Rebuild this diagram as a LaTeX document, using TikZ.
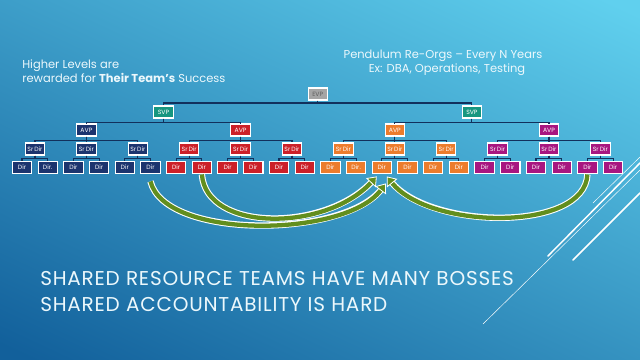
\documentclass[tikz,border=0pt]{standalone}
\usepackage{fontspec}
\setmainfont{Poppins}
\usetikzlibrary{arrows.meta}
\definecolor{bgtop}{RGB}{96,208,238}
\definecolor{bgbot}{RGB}{18,96,155}
\definecolor{cblue}{RGB}{28,52,110}
\definecolor{cred}{RGB}{204,32,40}
\definecolor{corange}{RGB}{236,124,44}
\definecolor{cpurple}{RGB}{168,22,128}
\definecolor{cteal}{RGB}{22,150,128}
\definecolor{cgray}{RGB}{165,165,165}
\definecolor{cline}{RGB}{18,48,92}
\definecolor{cgreen}{RGB}{98,142,30}
\definecolor{ctext}{RGB}{236,248,252}
\begin{document}
\begin{tikzpicture}[x=0.75pt,y=-0.75pt,
  box/.style={draw=white, line width=0.8pt, minimum width=14.5pt, minimum height=9pt,
    inner sep=0pt, text=white, font=\fontsize{4.6}{5}\selectfont},
  dirbox/.style={box, minimum height=9.6pt},
  conn/.style={draw=cline, line width=0.8pt},
  ushaft/.style={draw=white, line width=4.8pt, shorten >=5pt},
  gshaft/.style={draw=cgreen, line width=3.2pt,
    -{Triangle[width=10pt,length=6.5pt,fill=cgreen,color=white,line width=0.6pt]}},
  deco/.style={draw=white, line cap=round},
  slidetext/.style={text=ctext, inner sep=0pt},
  titletext/.style={slidetext, anchor=base west, font=\fontsize{15}{17}\selectfont\addfontfeatures{LetterSpace=4}}]
\useasboundingbox (0,0) rectangle (640,360);
\shade[top color=bgtop, bottom color=bgbot, shading angle=-25] (-60,-60) rectangle (700,420);

% decorative lines
\draw[deco, line width=0.35pt] (483,324) -- (640,170);
\draw[deco, line width=1.1pt] (548,256) -- (640,163);
\draw[deco, line width=1.1pt] (573,260) -- (640,193);
\draw[deco, line width=0.35pt] (593,203) -- (640,157);

% texts
\node[slidetext, anchor=base west, font=\fontsize{8.6}{10}\selectfont] (t1) at (22,68.3) {Higher Levels are};
\node[slidetext, anchor=base west, font=\fontsize{8.6}{10}\selectfont] (t2) at (22,82.7) {rewarded for \textbf{Their Team's} Success};
\node[slidetext, anchor=base, font=\fontsize{8.6}{10}\selectfont] (t3) at (443,58.5) {Pendulum Re-Orgs -- Every N Years};
\node[slidetext, anchor=base, font=\fontsize{8.6}{10}\selectfont] (t4) at (447,73) {Ex: DBA, Operations, Testing};
\node[titletext] (h1) at (40,286) {SHARED RESOURCE TEAMS HAVE MANY BOSSES};
\node[titletext] (h2) at (40,311) {SHARED ACCOUNTABILITY IS HARD};

% org chart nodes
\node[box, fill=cgray, text={rgb,255:red,95;green,95;blue,95}] (evp) at (317.7,94) {EVP};
\foreach \m in {0,1}
  \node[box, fill=cteal] (v\m) at ({163.5+308.4*\m},112) {SVP};
\foreach \k/\c in {0/cblue,1/cred,2/corange,3/cpurple}
  \node[box, fill=\c] (a\k) at ({86.4+154.2*\k},130) {AVP};
\foreach \j/\c in {0/cblue,1/cblue,2/cblue,3/cred,4/cred,5/cred,6/corange,7/corange,8/corange,9/cpurple,10/cpurple,11/cpurple}
  \node[box, fill=\c] (s\j) at ({35+51.4*\j},149) {Sr\,Dir};
\foreach \i/\c/\l in {0/cblue/Dir,1/cblue/Dir.,2/cblue/Dir,3/cblue/Dir,4/cblue/Dir,5/cblue/Dir,
  6/cred/Dir,7/cred/Dir,8/cred/Dir,9/cred/Dir,10/cred/Dir,11/cred/Dir,
  12/corange/Dir,13/corange/Dir.,14/corange/Dir,15/corange/Dir,16/corange/Dir,17/corange/Dir,
  18/cpurple/Dir,19/cpurple/Dir,20/cpurple/Dir,21/cpurple/Dir,22/cpurple/Dir,23/cpurple/Dir}
  \node[dirbox, fill=\c] (d\i) at ({22+25.7*\i},167.5) {\l};

% connectors
\foreach \m in {0,1}
  \draw[conn] (evp.south) -- ++(0,2.5) -| (v\m.north);
\foreach \k in {0,...,3} {
  \pgfmathtruncatemacro\p{\k/2}
  \draw[conn] (v\p.south) -- ++(0,4) -| (a\k.north);
}
\foreach \j in {0,...,11} {
  \pgfmathtruncatemacro\p{\j/3}
  \draw[conn] (a\p.south) -- ++(0,4) -| (s\j.north);
}
\foreach \i in {0,...,23} {
  \pgfmathtruncatemacro\p{\i/2}
  \draw[conn] (s\p.south) -- ++(0,3) -| (d\i.north);
}

% curved arrows
\coordinate (tipA) at ([shift={(-5,2)}]d14.south);
\coordinate (tipB) at ([shift={(4,9)}]d14.south);
\coordinate (tipC) at ([shift={(5,2)}]d14.south);
\coordinate (startB) at ([shift={(0,7)}]d5.south);

\draw[ushaft] (startB) .. controls (165,240) and (345,238) .. (tipB);
\draw[gshaft] (startB) .. controls (165,240) and (345,238) .. (tipB);
\draw[ushaft] (d7.south) .. controls (206,232) and (325,232) .. (tipA);
\draw[gshaft] (d7.south) .. controls (206,232) and (325,232) .. (tipA);
\draw[ushaft] (d22.south) .. controls (585,232) and (430,230) .. (tipC);
\draw[gshaft] (d22.south) .. controls (585,232) and (430,230) .. (tipC);
\end{tikzpicture}
\end{document}
